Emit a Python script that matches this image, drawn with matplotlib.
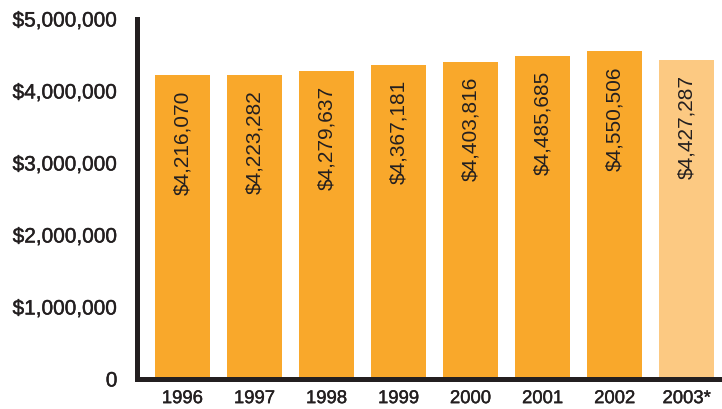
import matplotlib.pyplot as plt
import matplotlib.patheffects as pe

# dane z wykresu
lata = ['1996', '1997', '1998', '1999', '2000', '2001', '2002', '2003*']
wartosci = [4216070, 4223282, 4279637, 4367181, 4403816, 4485685, 4550506, 4427287]
kolory = ['#F9A82B'] * 7 + ['#FCC982']
yticks = [0, 1000000, 2000000, 3000000, 4000000, 5000000]
ytick_labels = ['0', '$1,000,000', '$2,000,000', '$3,000,000', '$4,000,000', '$5,000,000']

plt.rcParams['font.family'] = ['Liberation Sans', 'DejaVu Sans']
tekst = '#231F20'
grubiej = [pe.withStroke(linewidth=0.3, foreground=tekst)]  # troche grubsza czcionka

fig = plt.figure(figsize=(7.22, 4.10), dpi=100)
ax = fig.add_axes([137 / 722, 30 / 410, 585 / 722, 360 / 410])

x = range(len(lata))
ax.bar(x, wartosci, width=0.76, color=kolory, zorder=1)

for xi, v in zip(x, wartosci):
    ax.annotate('${:,}'.format(v), (xi, v), xytext=(0, -10), textcoords='offset points',
                rotation=90, ha='center', va='top', fontsize=15, color=tekst)

ax.set_xlim(-0.63, 7.49)
ax.set_ylim(0, 5000000)
ax.set_xticks(list(x))
ax.set_xticklabels(lata, fontsize=13.3, color=tekst)
ax.set_yticks(yticks)
ax.set_yticklabels(ytick_labels, fontsize=15, color=tekst)
for t in ax.get_xticklabels() + ax.get_yticklabels():
    t.set_path_effects(grubiej)
ax.tick_params(length=0)
ax.tick_params(axis='y', pad=14)
ax.tick_params(axis='x', pad=8)

for s in ['top', 'right']:
    ax.spines[s].set_visible(False)
for s in ['left', 'bottom']:
    ax.spines[s].set_linewidth(3.6)
    ax.spines[s].set_color(tekst)
    ax.spines[s].set_zorder(3)

fig.savefig('out.png', dpi=100)
